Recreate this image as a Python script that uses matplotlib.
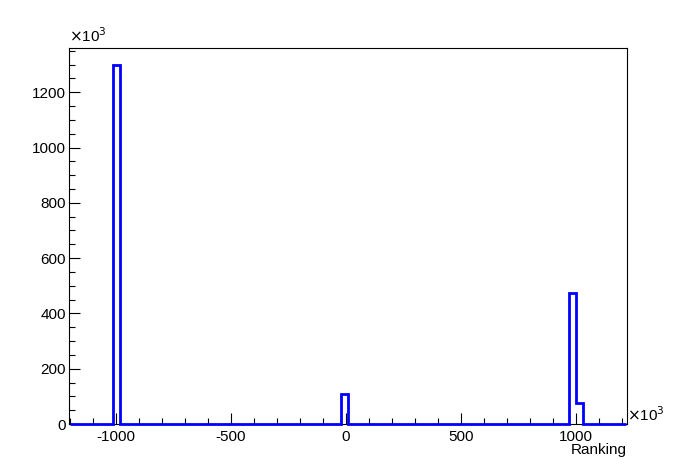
import numpy as np
import matplotlib
matplotlib.use("Agg")
import matplotlib.pyplot as plt
from matplotlib.ticker import MultipleLocator

# ---- data (x in units of 10^3, counts in units of 10^3) ----
bin_start = -1200.0
bin_width = 31.0
n_bins = 78
filled_bin_left = [-1014, -22, 970, 1001]
filled_counts = [1298, 110, 474, 77]

x_ticks = [-1000, -500, 0, 500, 1000]
y_ticks = [0, 200, 400, 600, 800, 1000, 1200]

edges = bin_start + bin_width * np.arange(n_bins + 1)
counts = np.zeros(n_bins)
for left, c in zip(filled_bin_left, filled_counts):
    idx = int(np.searchsorted(edges, left + bin_width / 2) - 1)
    counts[idx] = c

plt.rcParams['font.family'] = ['Liberation Sans', 'DejaVu Sans']
plt.rcParams['axes.unicode_minus'] = False

fig = plt.figure(figsize=(6.96, 4.72), dpi=100)
ax = fig.add_axes([69/696, 1 - 424/472, (627-69)/696, (424-48)/472])

ax.stairs(counts, edges, color='#0000ff', linewidth=2.0, baseline=0,
          fill=False, zorder=5, clip_on=False)

ax.set_xlim(-1205, 1223)
ax.set_ylim(0, 1360)

ax.set_xticks(x_ticks)
ax.set_yticks(y_ticks)
ax.xaxis.set_minor_locator(MultipleLocator(100))
ax.yaxis.set_minor_locator(MultipleLocator(50))

ax.tick_params(which='both', direction='in', top=False, right=False,
               width=0.8, labelsize=11, colors='black')
ax.tick_params(which='major', length=8)
ax.tick_params(which='minor', length=4)
ax.tick_params(axis='x', which='major', pad=4)
ax.tick_params(axis='y', which='major', pad=2)

for s in ax.spines.values():
    s.set_linewidth(0.8)
    s.set_color('black')

# axis multipliers and label
ax.text(0.0, 1.008, r'$\times$10$^{3}$', transform=ax.transAxes,
        ha='left', va='bottom', fontsize=11)
ax.text(1.0, 0.0, r'$\times$10$^{3}$', transform=ax.transAxes,
        ha='left', va='bottom', fontsize=11)
ax.text(1.0, -0.05, 'Ranking', transform=ax.transAxes,
        ha='right', va='top', fontsize=11)

fig.savefig('out.png', dpi=100, facecolor='white')
